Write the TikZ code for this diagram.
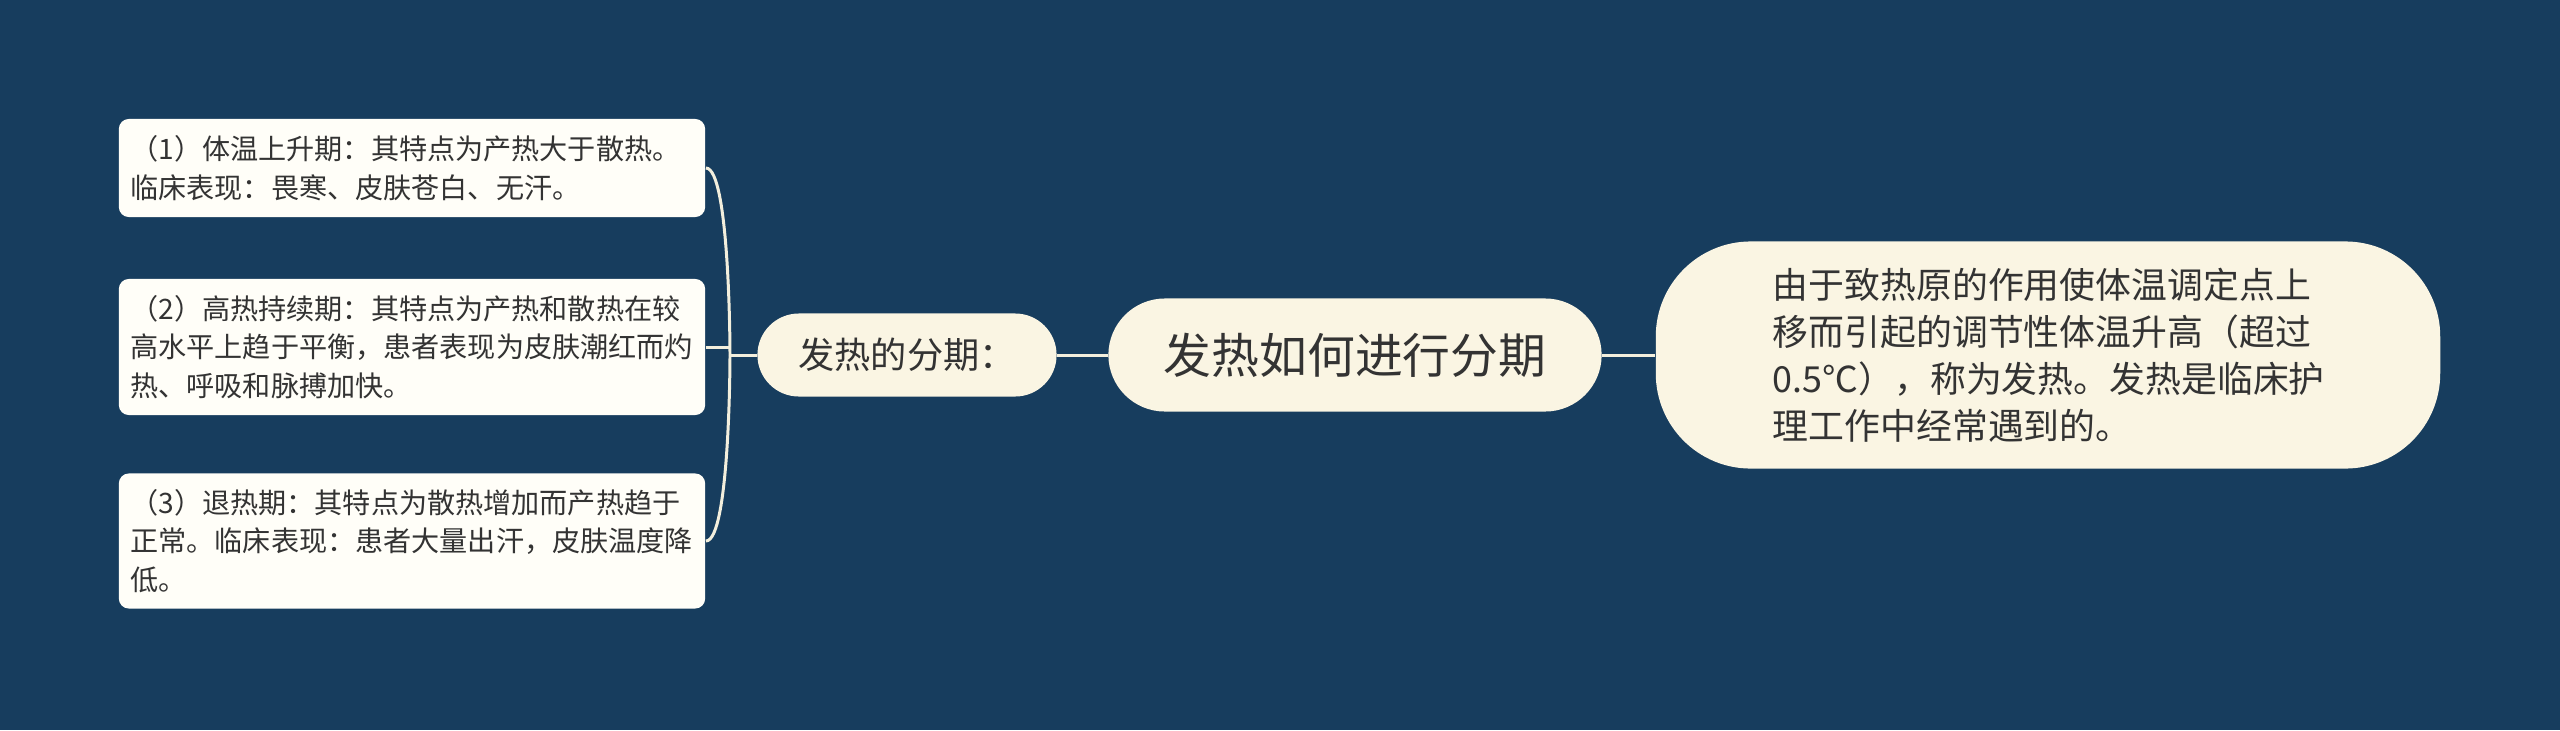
\documentclass[tikz,border=0pt]{standalone}
\usepackage{fontspec}
\setmainfont{Noto Sans CJK SC}
\definecolor{bgblue}{HTML}{173D5E}
\definecolor{cream}{HTML}{FAF5E3}
\definecolor{leafwhite}{HTML}{FFFEF8}
\definecolor{linecol}{HTML}{F3EFDD}
\definecolor{inkgray}{HTML}{333333}
\begin{document}
\begin{tikzpicture}[x=0.01cm, y=-0.01cm,
        leaf/.style={fill=leafwhite, rounded corners=0.1cm, text width=5.63cm, inner xsep=0.115cm, align=left, text=inkgray, font=\fontsize{8}{10.9}\selectfont},
        topic/.style={fill=cream, text=inkgray, inner sep=0pt},
        link/.style={draw=linecol, line width=0.85pt}]
        \fill [bgblue] (0,0) rectangle (2560,730);
        \useasboundingbox (0,0) rectangle (2560,730);

        \node [leaf, minimum height=0.98cm] (L1) at (412,168) {（1）体温上升期：其特点为产热大于散热。\\临床表现：畏寒、皮肤苍白、无汗。};
        \node [leaf, minimum height=1.36cm] (L2) at (412,347) {（2）高热持续期：其特点为产热和散热在较\\高水平上趋于平衡，患者表现为皮肤潮红而灼\\热、呼吸和脉搏加快。};
        \node [leaf, minimum height=1.35cm] (L3) at (412,541) {（3）退热期：其特点为散热增加而产热趋于\\正常。临床表现：患者大量出汗，皮肤温度降\\低。};

        \node [topic, minimum width=2.99cm, minimum height=0.83cm, rounded corners=0.415cm, font=\fontsize{10.3}{12}\selectfont] (P) at (907,355) {发热的分期：};
        \node [topic, minimum width=4.93cm, minimum height=1.13cm, rounded corners=0.565cm, font=\fontsize{13.6}{16}\selectfont] (M) at (1355,355) {发热如何进行分期};
        \node [topic, minimum width=7.84cm, minimum height=2.27cm, rounded corners=0.95cm, text width=5.5cm, align=left, font=\fontsize{10.2}{13.4}\selectfont] (D) at (2048,355) {由于致热原的作用使体温调定点上\\移而引起的调节性体温升高（超过\\0.5℃），称为发热。发热是临床护\\理工作中经常遇到的。};

        \coordinate (J) at (730,355);
        \draw [link] (L1.east) .. controls (730,168) and (730,355) .. (J);
        \draw [link] (L3.east) .. controls (730,541) and (730,355) .. (J);
        \draw [link] (L2.east) -- (L2.east -| J);
        \draw [link] (J) -- (P.west);
        \draw [link] (P.east) -- (M.west);
        \draw [link] (M.east) -- (D.west);
\end{tikzpicture}
\end{document}
